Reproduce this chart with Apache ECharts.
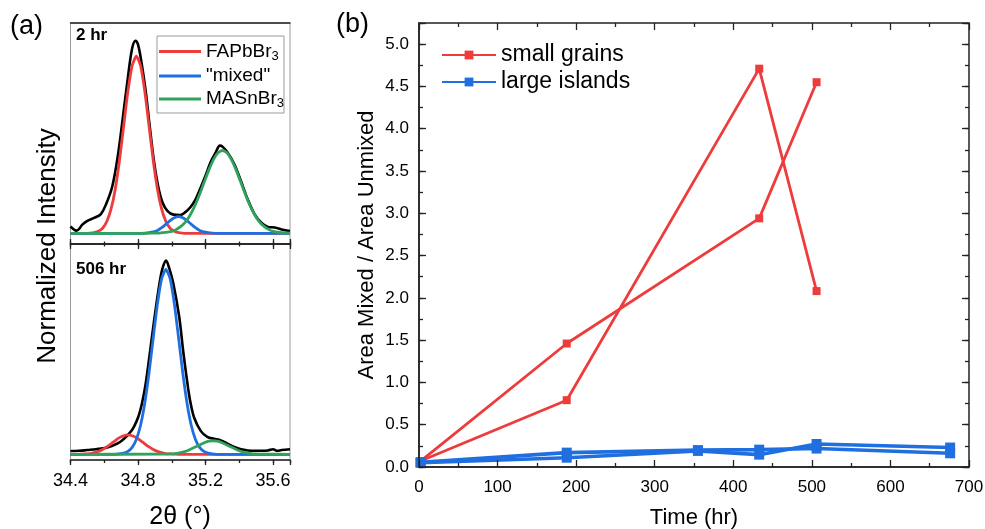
<!DOCTYPE html>
<html><head><meta charset="utf-8">
<script src="https://cdn.jsdelivr.net/npm/echarts@6/dist/echarts.min.js"></script>
<style>html,body{margin:0;padding:0;background:#fff}#c{width:985px;height:529px}</style>
</head><body><div id="c"></div>
<script>
const FONT = '"Liberation Sans", Arial, Helvetica, sans-serif';

// ---------- panel (a): XRD peaks ----------
const fitNames = ['FAPbBr3', '"mixed"', 'MASnBr3'];
const xTicksA = [34.4, 34.8, 35.2, 35.6];

// 2 hr
const topBlack = [[34.400,0.035],[34.420,0.020],[34.434,0.014],[34.450,0.022],[34.470,0.045],[34.500,0.065],[34.540,0.080],[34.580,0.100],[34.610,0.150],[34.647,0.242],[34.680,0.400],[34.710,0.600],[34.740,0.810],[34.765,0.960],[34.785,1.000],[34.800,0.980],[34.820,0.890],[34.845,0.740],[34.870,0.550],[34.895,0.370],[34.920,0.240],[34.945,0.160],[34.975,0.115],[35.010,0.097],[35.050,0.095],[35.080,0.110],[35.110,0.135],[35.140,0.175],[35.170,0.235],[35.200,0.300],[35.230,0.370],[35.260,0.420],[35.285,0.455],[35.300,0.450],[35.330,0.420],[35.370,0.360],[35.410,0.270],[35.450,0.175],[35.490,0.100],[35.530,0.055],[35.570,0.033],[35.610,0.030],[35.650,0.020],[35.700,0.012]];
const topRed = [[34.40,0],[34.50,0],[34.54,0.004],[34.565,0.010],[34.59,0.026],[34.615,0.061],[34.64,0.125],[34.665,0.229],[34.69,0.378],[34.715,0.558],[34.74,0.737],[34.765,0.870],[34.79,0.920],[34.815,0.870],[34.84,0.737],[34.865,0.558],[34.89,0.378],[34.915,0.229],[34.94,0.125],[34.965,0.061],[34.99,0.026],[35.015,0.010],[35.04,0.004],[35.08,0],[35.70,0]];
const topBlue = [[34.40,0],[34.80,0],[34.84,0.001],[34.865,0.003],[34.89,0.007],[34.915,0.015],[34.94,0.029],[34.965,0.047],[34.99,0.066],[35.015,0.081],[35.04,0.087],[35.065,0.081],[35.09,0.066],[35.115,0.047],[35.14,0.029],[35.165,0.015],[35.19,0.007],[35.215,0.003],[35.24,0.001],[35.28,0],[35.70,0]];
const topGreen = [[34.40,0],[34.85,0],[34.90,0.001],[34.925,0.001],[34.95,0.003],[34.975,0.006],[35.00,0.010],[35.025,0.019],[35.05,0.033],[35.075,0.053],[35.10,0.082],[35.125,0.121],[35.15,0.170],[35.175,0.226],[35.20,0.285],[35.225,0.341],[35.25,0.388],[35.275,0.419],[35.30,0.430],[35.325,0.419],[35.35,0.388],[35.375,0.341],[35.40,0.285],[35.425,0.226],[35.45,0.170],[35.475,0.121],[35.50,0.082],[35.525,0.053],[35.55,0.033],[35.575,0.019],[35.60,0.010],[35.625,0.006],[35.65,0.003],[35.675,0.001],[35.70,0.001]];

// 506 hr
const botBlack = [[34.40,0.017],[34.45,0.018],[34.50,0.022],[34.55,0.026],[34.60,0.032],[34.644,0.042],[34.702,0.069],[34.761,0.121],[34.800,0.190],[34.825,0.270],[34.845,0.363],[34.872,0.536],[34.898,0.709],[34.927,0.882],[34.945,0.960],[34.966,1.000],[34.985,0.960],[35.009,0.882],[35.044,0.709],[35.067,0.536],[35.093,0.363],[35.110,0.270],[35.132,0.190],[35.171,0.121],[35.210,0.090],[35.250,0.080],[35.290,0.072],[35.330,0.055],[35.370,0.038],[35.410,0.026],[35.450,0.020],[35.490,0.018],[35.530,0.018],[35.570,0.020],[35.600,0.026],[35.625,0.018],[35.650,0.022],[35.700,0.026]];
const botRed = [[34.40,0],[34.44,0],[34.465,0.001],[34.49,0.002],[34.515,0.004],[34.54,0.009],[34.565,0.015],[34.59,0.025],[34.615,0.038],[34.64,0.054],[34.665,0.071],[34.69,0.086],[34.715,0.096],[34.74,0.100],[34.765,0.096],[34.79,0.086],[34.815,0.071],[34.84,0.054],[34.865,0.038],[34.89,0.025],[34.915,0.015],[34.94,0.009],[34.965,0.004],[34.99,0.002],[35.015,0.001],[35.04,0],[35.70,0]];
const botBlue = [[34.40,0],[34.665,0],[34.69,0.002],[34.715,0.006],[34.74,0.015],[34.765,0.036],[34.79,0.077],[34.815,0.150],[34.84,0.265],[34.865,0.420],[34.89,0.601],[34.915,0.777],[34.94,0.907],[34.965,0.955],[34.99,0.907],[35.015,0.777],[35.04,0.601],[35.065,0.420],[35.09,0.265],[35.115,0.150],[35.14,0.077],[35.165,0.036],[35.19,0.015],[35.215,0.006],[35.24,0.002],[35.265,0],[35.70,0]];
const botGreen = [[34.40,0],[34.945,0.0005],[34.97,0.001],[34.995,0.002],[35.02,0.004],[35.045,0.008],[35.07,0.013],[35.095,0.020],[35.12,0.030],[35.145,0.040],[35.17,0.051],[35.195,0.061],[35.22,0.068],[35.245,0.070],[35.27,0.068],[35.295,0.061],[35.32,0.051],[35.345,0.040],[35.37,0.030],[35.395,0.020],[35.42,0.013],[35.445,0.008],[35.47,0.004],[35.495,0.002],[35.52,0.001],[35.545,0.0005],[35.70,0]];

// ---------- panel (b): area ratio vs time ----------
const seriesNamesB = ['small grains', 'large islands'];
const timesSmall = [2, 188, 433, 506];
const smallGrains1 = [0.07, 1.46, 2.94, 4.55];
const smallGrains2 = [0.07, 0.79, 4.71, 2.08];
const timesLarge = [2, 188, 355, 433, 506, 676];
const largeIslands1 = [0.055, 0.17, 0.20, 0.205, 0.218, 0.162];
const largeIslands2 = [0.05, 0.11, 0.19, 0.146, 0.272, 0.23];
const yTicksB = [0.0, 0.5, 1.0, 1.5, 2.0, 2.5, 3.0, 3.5, 4.0, 4.5, 5.0];
const xTicksB = [0, 100, 200, 300, 400, 500, 600, 700];

const RED = '#EE3B3B', BLUE = '#1F6FE0', GREEN = '#2FA35C', DARK = '#222';
const RA_TOP = {left: 70.5, top: 23, width: 219.5, height: 221};
const RA_BOT = {left: 70.5, top: 244, width: 219.5, height: 216};
const RB = {left: 419, top: 23, width: 550, height: 444};

function zip(xs, ys) { return xs.map((x, i) => [x, ys[i]]); }
function near(list, v) { return list.some(t => Math.abs(t - v) < 1e-6); }

const noLbl = {show: false};
const noSplit = {show: false};
const noLine = {show: false, onZero: false};
const darkLine = {show: true, onZero: false, lineStyle: {color: DARK, width: 1.5}};
const tk = (len) => ({show: true, inside: false, length: len, lineStyle: {color: DARK, width: 1.3}});
const mtk = (len) => ({show: true, splitNumber: 2, length: len, lineStyle: {color: DARK, width: 1.3}});
const noTick = {show: false};

function xA(grid, pos, interval, opts) {
  return Object.assign({
    gridIndex: grid, type: 'value', position: pos, min: 34.4, max: 35.7, interval: interval,
    axisLine: noLine, axisLabel: noLbl, splitLine: noSplit, z: 5, axisTick: noTick
  }, opts);
}
// panel (b): inward ticks come from axes placed on the opposite edge (outward ticks)
function xB(grid, pos, offset, opts) {
  return Object.assign({
    gridIndex: grid, type: 'value', position: pos, offset: offset, min: 0, max: 700, interval: 100,
    axisLine: noLine, axisLabel: noLbl, splitLine: noSplit, z: 5, axisTick: noTick
  }, opts);
}
function yB(grid, pos, offset, interval, opts) {
  return Object.assign({
    gridIndex: grid, type: 'value', position: pos, offset: offset, min: 0, max: 5.25, interval: interval,
    axisLine: noLine, axisLabel: noLbl, splitLine: noSplit, z: 5, axisTick: noTick
  }, opts);
}
const BW = RB.width, BH = RB.height;

const xAxis = [
  // 0: grid0 bottom = middle line, ticks down into lower panel
  xA(0, 'bottom', 0.4, {axisLine: darkLine, axisTick: tk(5)}),
  // 1: grid0 top line
  xA(0, 'top', 0.4, {axisLine: darkLine}),
  // 2: grid1 bottom, labelled, ticks outward
  xA(1, 'bottom', 0.4, {axisLine: darkLine, axisTick: tk(5),
    axisLabel: {show: true, margin: 12, fontSize: 18, fontFamily: FONT, color: '#000',
      formatter: v => near(xTicksA, v) ? v.toFixed(1) : ''}}),
  // 3: grid1 top = middle line, ticks up into upper panel
  xA(1, 'top', 0.4, {axisLine: darkLine, axisTick: tk(5)}),
  // 4: minor ticks on the middle line (down)
  xA(4, 'bottom', 0.2, {axisTick: tk(2.5)}),
  // 5: minor ticks on the bottom line (outward)
  xA(5, 'bottom', 0.2, {axisTick: tk(3)}),
  // 6: minor ticks on the middle line (up)
  xA(5, 'top', 0.2, {axisTick: tk(2.5)}),
  // 7: panel b bottom labels + line
  xB(2, 'bottom', 0, {axisLine: darkLine,
    axisLabel: {show: true, margin: 12, fontSize: 17, fontFamily: FONT, color: '#000',
      formatter: v => near(xTicksB, v) ? String(v) : ''}}),
  // 8: 'top' axis moved to the bottom edge -> ticks point up (inward)
  xB(2, 'top', -BH, {axisTick: tk(7), minorTick: mtk(4)}),
  // 9: 'bottom' axis moved to the top edge -> ticks point down (inward)
  xB(3, 'bottom', -BH, {axisTick: tk(7), minorTick: mtk(4)}),
  // 10: grid6 hidden
  xB(6, 'bottom', 0, {show: false})
];

const yAxis = [
  {gridIndex: 0, type: 'value', min: -0.0556, max: 1.092, show: false, axisLine: noLine},
  {gridIndex: 1, type: 'value', min: -0.0294, max: 1.086, show: false, axisLine: noLine},
  // 2: panel b left labels + line
  yB(2, 'left', 0, 0.5, {axisLine: darkLine,
    axisLabel: {show: true, margin: 10, fontSize: 17, fontFamily: FONT, color: '#000',
      formatter: v => near(yTicksB, v) ? v.toFixed(1) : ''}}),
  // 3: 'right' axis moved to the left edge -> ticks point right (inward)
  yB(2, 'right', -BW, 0.5, {axisTick: tk(7)}),
  // 4: 'left' axis moved to the right edge -> ticks point left (inward)
  yB(3, 'left', -BW, 0.5, {axisTick: tk(7)}),
  {gridIndex: 4, type: 'value', min: 0, max: 1, show: false, axisLine: noLine},
  {gridIndex: 5, type: 'value', min: 0, max: 1, show: false, axisLine: noLine},
  // 7, 8: minor y ticks (0.25) on the left and right edges
  yB(6, 'right', -BW, 0.25, {axisTick: tk(4)}),
  yB(6, 'left', -BW, 0.25, {axisTick: tk(4)})
];

const gridBase = {containLabel: false, outerBoundsMode: 'none'};
const grid = [
  Object.assign({}, gridBase, RA_TOP, {show: true, borderColor: '#9a9a9a', borderWidth: 1, backgroundColor: 'transparent'}),
  Object.assign({}, gridBase, RA_BOT, {show: true, borderColor: '#9a9a9a', borderWidth: 1, backgroundColor: 'transparent'}),
  Object.assign({}, gridBase, RB, {show: true, borderColor: DARK, borderWidth: 1.5, backgroundColor: 'transparent'}),
  Object.assign({}, gridBase, RB),
  Object.assign({}, gridBase, RA_TOP),
  Object.assign({}, gridBase, RA_BOT),
  Object.assign({}, gridBase, RB)
];

function curve(name, data, color, xi, yi, w, sm) {
  return {type: 'line', name: name, data: data, xAxisIndex: xi, yAxisIndex: yi,
    symbol: 'none', smooth: sm, lineStyle: {color: color, width: w}, itemStyle: {color: color},
    silent: true, z: 2};
}
function ratio(name, xs, ys, color, w, size) {
  return {type: 'line', name: name, data: zip(xs, ys), xAxisIndex: 7, yAxisIndex: 2,
    symbol: 'rect', symbolSize: size, showSymbol: true,
    lineStyle: {color: color, width: w}, itemStyle: {color: color}, z: 3};
}

const series = [
  curve('black2', topBlack, '#000', 0, 0, 2.6, 0.35),
  curve(fitNames[0], topRed, RED, 0, 0, 2.8, 0.2),
  curve(fitNames[1], topBlue, BLUE, 0, 0, 2.8, 0.2),
  curve(fitNames[2], topGreen, GREEN, 0, 0, 2.8, 0.2),
  curve('black506', botBlack, '#000', 2, 1, 2.6, 0.35),
  curve(fitNames[0], botRed, RED, 2, 1, 2.8, 0.2),
  curve(fitNames[1], botBlue, BLUE, 2, 1, 2.8, 0.2),
  curve(fitNames[2], botGreen, GREEN, 2, 1, 2.8, 0.2),
  ratio(seriesNamesB[0], timesSmall, smallGrains1, RED, 2.8, 8),
  ratio(seriesNamesB[0], timesSmall, smallGrains2, RED, 2.8, 8),
  ratio(seriesNamesB[1], timesLarge, largeIslands1, BLUE, 3.6, 10),
  ratio(seriesNamesB[1], timesLarge, largeIslands2, BLUE, 3.6, 10)
];

const legend = [
  {data: fitNames, left: 157, top: 36, orient: 'vertical', icon: 'rect',
   itemWidth: 42, itemHeight: 3, itemGap: 4, padding: [6, 0, 3, 2],
   backgroundColor: '#fff', borderColor: '#9a9a9a', borderWidth: 1, borderRadius: 0,
   selectedMode: false,
   textStyle: {color: '#000', fontSize: 19, fontFamily: FONT,
     rich: {n: {fontSize: 19, fontFamily: FONT, color: '#000', lineHeight: 22},
            s: {fontSize: 13, fontFamily: FONT, color: '#000', lineHeight: 12, verticalAlign: 'bottom'}}},
   formatter: name => {
     if (name === 'FAPbBr3') return '{n|FAPbBr}{s|3}';
     if (name === 'MASnBr3') return '{n|MASnBr}{s|3}';
     return '{n|' + name + '}';
   }},
  {data: seriesNamesB, left: 441, top: 43.5, orient: 'vertical',
   itemWidth: 54, itemHeight: 11, itemGap: 4, padding: 0, selectedMode: false,
   textStyle: {color: '#000', fontSize: 23, fontFamily: FONT}}
];

function txt(text, x, y, size, opts) {
  return Object.assign({type: 'text', x: x, y: y, silent: true, z: 10,
    style: Object.assign({text: text, fill: '#000', fontSize: size, fontFamily: FONT,
      align: 'center', verticalAlign: 'middle', textAlign: 'center', textVerticalAlign: 'middle'}, (opts && opts.style) || {})},
    (opts && opts.el) || {});
}
const graphic = [
  txt('(a)', 10, 27, 27, {style: {align: 'left', textAlign: 'left'}}),
  txt('(b)', 336, 25, 27, {style: {align: 'left', textAlign: 'left'}}),
  txt('Normalized Intensity', 48, 246, 26, {el: {rotation: Math.PI / 2}}),
  txt('2\u03b8 (\u00b0)', 180, 517, 25),
  txt('Area Mixed / Area Unmixed', 367, 245, 22, {el: {rotation: Math.PI / 2}}),
  txt('Time (hr)', 694, 518, 22),
  txt('2 hr', 76, 35, 17, {style: {align: 'left', textAlign: 'left', fontWeight: 'bold'}}),
  txt('506 hr', 76, 269, 17, {style: {align: 'left', textAlign: 'left', fontWeight: 'bold'}})
];

const chart = echarts.init(document.getElementById('c'), null, {renderer: 'canvas'});
chart.setOption({
  animation: false,
  backgroundColor: '#fff',
  textStyle: {fontFamily: FONT},
  grid: grid, xAxis: xAxis, yAxis: yAxis, series: series, legend: legend, graphic: graphic
});
</script></body></html>
